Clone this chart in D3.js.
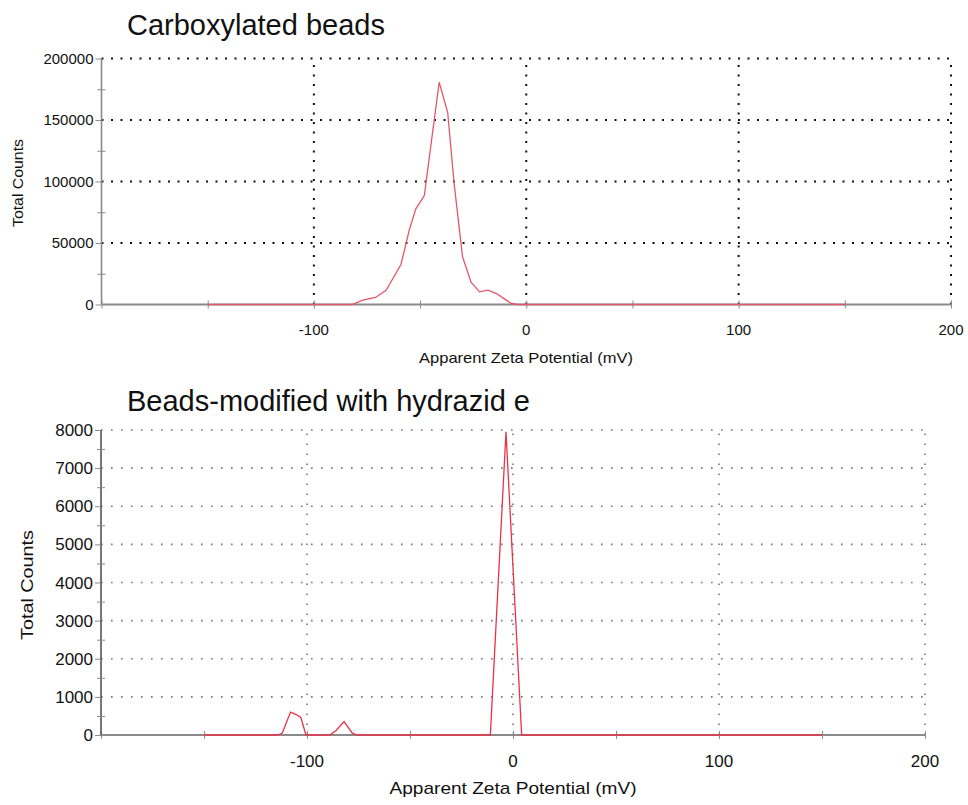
<!DOCTYPE html>
<html lang="en">
<head>
<meta charset="utf-8">
<title>Zeta potential</title>
<script src="https://d3js.org/d3.v7.min.js"></script>
<style>
  body { margin: 0; background: #fff; }
  text { font-family: "Liberation Sans", Arial, sans-serif; fill: #111; }
</style>
</head>
<body>
<svg width="968" height="805"></svg>
<script>

// x axis (mV) shared by both panels
var zetaTicks = [-100, 0, 100, 200];

// top panel: carboxylated beads
var topTitle = "Carboxylated beads";
var topZeta = [-150, -82, -77, -71, -66, -59, -55, -52, -48, -41, -37, -34, -30, -26, -22, -18, -14, -11, -7, -4, 150];
var topCounts = [0, 0, 3500, 5700, 11600, 32500, 61000, 77800, 88600, 180700, 156300, 98900, 38800, 18100, 10300, 11600, 8900, 5400, 800, 0, 0];
var topYTicks = [0, 50000, 100000, 150000, 200000];

// bottom panel: hydrazide modified beads
var botTitle = "Beads-modified with hydrazid e";
var botZeta = [-150, -114, -112, -108, -105, -103, -100.5, -89, -86, -82, -78, -75.5, -11, -3.4, 4.2, 150];
var botCounts = [0, 0, 50, 600, 530, 460, 0, 0, 110, 350, 50, 0, 0, 7950, 0, 0];
var botYTicks = [0, 1000, 2000, 3000, 4000, 5000, 6000, 7000, 8000];

var svg = d3.select("svg");

function panel(p) {
  var x = d3.scaleLinear().domain([-200, 200]).range(p.xr);
  var y = d3.scaleLinear().domain([0, d3.max(p.yTicks)]).range(p.yr);
  var g = svg.append("g");
  var yMax = d3.max(p.yTicks);

  // title
  g.append("text")
      .attr("x", p.titleX).attr("y", p.titleY)
      .style("font-size", p.titleSize + "px")
      .text(p.title);

  // dotted grid
  g.selectAll(".hgrid")
    .data(p.yTicks.filter(function(d) { return d > 0; }))
    .enter().append("line")
      .attr("x1", x(-200)).attr("x2", x(200))
      .attr("y1", function(d) { return y(d); })
      .attr("y2", function(d) { return y(d); })
      .attr("stroke", p.gridColor)
      .attr("stroke-width", p.dotW)
      .attr("stroke-dasharray", p.dash);

  g.selectAll(".vgrid")
    .data(zetaTicks)
    .enter().append("line")
      .attr("x1", function(d) { return x(d); })
      .attr("x2", function(d) { return x(d); })
      .attr("y1", y(0)).attr("y2", y(yMax))
      .attr("stroke", p.gridColor)
      .attr("stroke-width", p.dotW)
      .attr("stroke-dasharray", p.dash);

  // axes
  var xAx = d3.axisBottom(x).tickValues(d3.range(-200, 201, 50)).tickSize(4).tickFormat("");
  var xg = g.append("g")
      .attr("transform", "translate(0," + y(0) + ")")
      .call(xAx);
  xg.selectAll(".tick line").attr("y1", -4).attr("stroke", p.axisColor);
  xg.select(".domain").attr("stroke", p.axisColor).attr("stroke-width", 1.8).attr("d", "M" + x(-200) + ",0H" + x(200));

  g.selectAll(".xlab")
    .data(zetaTicks)
    .enter().append("text")
      .attr("x", function(d) { return x(d); })
      .attr("y", y(0) + p.xLabOff)
      .attr("text-anchor", "middle")
      .style("font-size", p.tickSize + "px")
      .text(function(d) { return d; });

  var minor = d3.range(0, yMax + 1, yMax / ((p.yTicks.length - 1) * 2));
  var yAx = d3.axisLeft(y).tickValues(minor).tickSize(5).tickFormat("");
  var yg = g.append("g")
      .attr("transform", "translate(" + x(-200) + ",0)")
      .call(yAx);
  yg.selectAll(".tick line").attr("stroke", p.axisColor)
      .attr("x2", function(d) { return p.yTicks.indexOf(d) >= 0 ? -6 : -4; })
      .attr("x1", function(d) { return p.yTicks.indexOf(d) >= 0 ? 0 : 4; });
  yg.select(".domain").attr("stroke", p.yAxisColor).attr("stroke-width", 1.6).attr("d", "M0," + y(0) + "V" + y(yMax));

  g.selectAll(".ylab")
    .data(p.yTicks)
    .enter().append("text")
      .attr("x", x(-200) - 8)
      .attr("y", function(d) { return y(d); })
      .attr("dy", "0.36em")
      .attr("text-anchor", "end")
      .style("font-size", p.tickSize + "px")
      .text(function(d) { return d; });

  // axis titles
  g.append("text")
      .attr("x", p.xTitleX).attr("y", p.xTitleY)
      .attr("text-anchor", "middle")
      .attr("textLength", p.xTitleLen)
      .attr("lengthAdjust", "spacingAndGlyphs")
      .style("font-size", p.labSize + "px")
      .text("Apparent Zeta Potential (mV)");

  g.append("text")
      .attr("transform", "translate(" + p.yTitleX + "," + p.yTitleY + ") rotate(-90)")
      .attr("text-anchor", "middle")
      .attr("textLength", p.yTitleLen)
      .attr("lengthAdjust", "spacingAndGlyphs")
      .style("font-size", p.labSize + "px")
      .text("Total Counts");

  // data line
  var line = d3.line()
      .x(function(d, i) { return x(p.zeta[i]); })
      .y(function(d) { return y(d); });
  g.append("path")
      .datum(p.counts)
      .attr("fill", "none")
      .attr("stroke", p.lineColor)
      .attr("stroke-width", 1.3)
      .attr("d", line);
}

panel({
  title: topTitle, zeta: topZeta, counts: topCounts, yTicks: topYTicks,
  xr: [101.5, 951], yr: [304.5, 58.5],
  titleX: 127, titleY: 35, titleSize: 29,
  gridColor: "#111", dotW: 2, dash: "2,7.5",
  axisColor: "#8a8a8a", yAxisColor: "#8a8a8a",
  tickSize: 15, xLabOff: 30,
  xTitleX: 526, xTitleY: 363, xTitleLen: 214, labSize: 15,
  yTitleX: 23, yTitleY: 183, yTitleLen: 88,
  lineColor: "#e4576a"
});

panel({
  title: botTitle, zeta: botZeta, counts: botCounts, yTicks: botYTicks,
  xr: [101, 925], yr: [735, 430],
  titleX: 127, titleY: 411, titleSize: 29,
  gridColor: "#777", dotW: 1.6, dash: "1.6,8.4",
  axisColor: "#8a8a8a", yAxisColor: "#555",
  tickSize: 17, xLabOff: 32,
  xTitleX: 513, xTitleY: 794, xTitleLen: 247, labSize: 17,
  yTitleX: 33, yTitleY: 585, yTitleLen: 110,
  lineColor: "#e8334a"
});

</script>
</body>
</html>
